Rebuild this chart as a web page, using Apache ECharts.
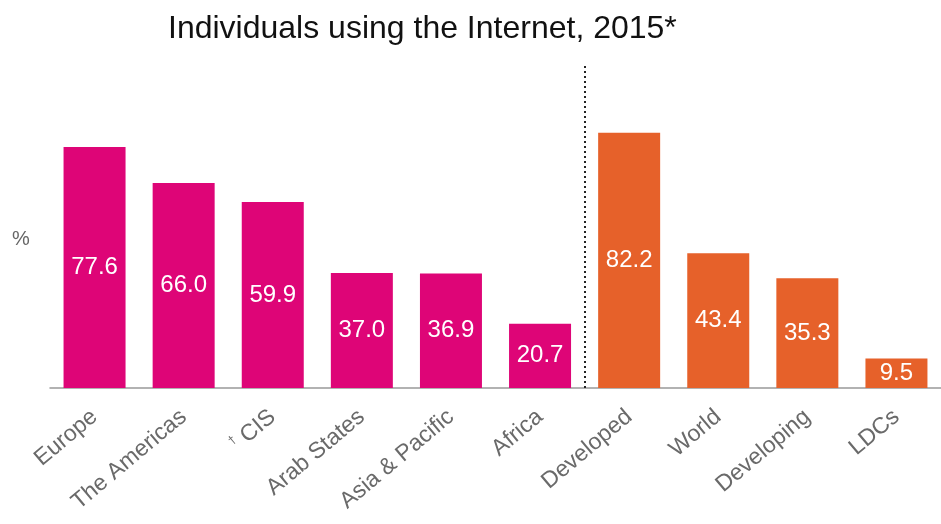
<!doctype html>
<html>
<head>
	<meta charset="utf-8">
	<title>Individuals using the Internet</title>
	<script src="https://cdn.jsdelivr.net/npm/echarts@6/dist/echarts.min.js"></script>
	<style>
		html, body {margin:0;padding:0;background:#fff;}
		#main {width:941px;height:524px;}
	</style>
</head>
<body>
	<div id="main"></div>
<script>
	"use strict";
	// data
	var categories = ['Europe', 'The Americas', '\u2020 CIS', 'Arab States', 'Asia & Pacific', 'Africa',
		'Developed', 'World', 'Developing', 'LDCs'];
	var values = [77.6, 66.0, 59.9, 37.0, 36.9, 20.7, 82.2, 43.4, 35.3, 9.5];
	var regionCount = 6;	// first six are regions, the rest are groups

	var pink = '#DE0577';
	var orange = '#E6612A';

	var myChart = echarts.init(document.getElementById('main'));

	var barData = [];
	for (let i = 0; i < values.length; i++) {
		barData.push({
			value: values[i],
			itemStyle: {color: i < regionCount ? pink : orange}
		});
	}

	myChart.setOption({
		animation: false,
		title: {
			text: 'Individuals using the Internet, 2015*',
			left: 163,
			top: 8,
			textStyle: {fontFamily: 'Liberation Sans', fontSize: 32, fontWeight: 'normal', color: '#111'}
		},
		graphic: [{
			type: 'text',
			left: 12,
			top: 229,
			style: {text: '%', font: '20px "Liberation Sans"', fill: '#666'}
		}],
		grid: {left: 50, width: 893, top: 65, height: 323},
		xAxis: [{
			type: 'category',
			data: categories,
			axisLine: {lineStyle: {color: '#999', width: 1.5}},
			axisTick: {show: false},
			axisLabel: {
				rotate: 40,
				margin: 26,
				interval: 0,
				fontFamily: 'Liberation Sans',
				fontSize: 23,
				color: '#6a6a6a',
				// small dagger in front of CIS
				formatter: function (v) {
					if (v.charAt(0) === '\u2020') return '{s|\u2020}' + v.slice(1);
					return v;
				},
				rich: {s: {fontSize: 12, color: '#6a6a6a', fontFamily: 'Liberation Sans', verticalAlign: 'top'}}
			}
		}, {
			// hidden helper axis, 1 unit per category, for the divider
			type: 'value',
			min: 0,
			max: categories.length,
			show: false
		}],
		yAxis: {
			type: 'value',
			min: 0,
			max: 104,
			show: false
		},
		series: [{
			type: 'bar',
			barWidth: 62,
			data: barData,
			label: {
				show: true,
				position: 'inside',
				formatter: function (p) { return p.value.toFixed(1); },
				color: '#fff',
				fontFamily: 'Liberation Sans',
				fontSize: 24
			}
		}, {
			type: 'line',
			xAxisIndex: 1,
			data: [],
			markLine: {
				silent: true,
				symbol: 'none',
				label: {show: false},
				lineStyle: {color: '#222', type: [2, 3], width: 2},
				data: [{xAxis: regionCount}]
			}
		}]
	});
</script>
</body>
</html>
